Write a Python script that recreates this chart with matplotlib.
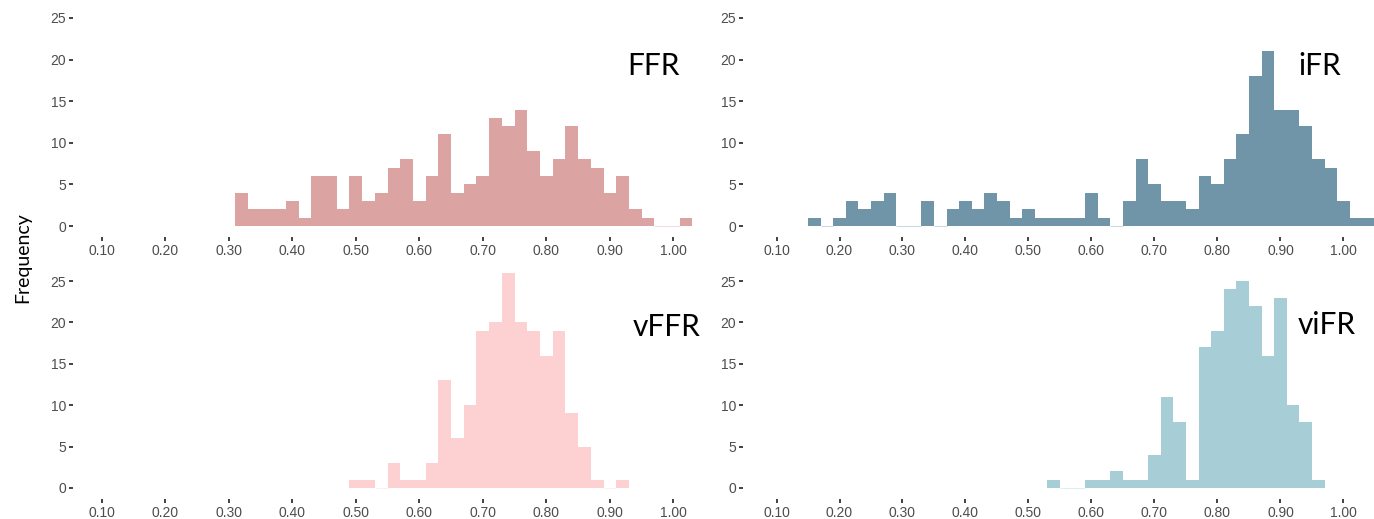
import numpy as np
import matplotlib
matplotlib.use("Agg")
import matplotlib.pyplot as plt

plt.rcParams['font.family'] = ['Liberation Sans', 'DejaVu Sans']

# histogram counts, bin width 0.02, first bin left edge given per index
bin_width = 0.02

ffr_start = 0.31
ffr_counts = [4, 2, 2, 2, 3, 1, 6, 6, 2, 6, 3, 4, 7, 8, 3, 6, 11, 4, 5, 6,
              13, 12, 14, 9, 6, 8, 12, 8, 7, 4, 6, 2, 1, 0, 0, 1]

ifr_start = 0.15
ifr_counts = [1, 0, 1, 3, 2, 3, 4, 0, 0, 3, 0, 2, 3, 2, 4, 3, 1, 2, 1, 1,
              1, 1, 4, 1, 0, 3, 8, 5, 3, 3, 2, 6, 5, 8, 11, 18, 21, 14, 14, 12,
              8, 7, 3, 1, 1]

vffr_start = 0.49
vffr_counts = [1, 1, 0, 3, 1, 1, 3, 13, 6, 10, 19, 20, 26, 20, 19, 16, 19, 9, 5, 1,
               0, 1]

vifr_start = 0.53
vifr_counts = [1, 0, 0, 1, 1, 2, 1, 1, 4, 11, 8, 1, 17, 19, 24, 25, 22, 16, 23, 10,
               8, 1]

x_ticks = [0.1, 0.2, 0.3, 0.4, 0.5, 0.6, 0.7, 0.8, 0.9, 1.0]
y_ticks = [0, 5, 10, 15, 20, 25]

W, H = 1374, 519
fig = plt.figure(figsize=(W / 100, H / 100), dpi=100)


def px_axes(x0, x1, ytop, ybot):
    return fig.add_axes([x0 / W, (H - ybot) / H, (x1 - x0) / W, (ybot - ytop) / H])


def hist_panel(ax, start, counts, color, label, xlim, ylim, lab_x, lab_y):
    counts = np.asarray(counts)
    lefts = start + bin_width * np.arange(len(counts))
    ax.bar(lefts, counts, width=bin_width, align='edge', color=color, linewidth=0)
    # empty bins show as a faint line on the baseline
    empty = counts == 0
    ax.hlines(np.zeros(empty.sum()), lefts[empty], lefts[empty] + bin_width,
              color=color, lw=0.8, alpha=0.35)
    ax.set_xlim(*xlim)
    ax.set_ylim(*ylim)
    ax.set_xticks(x_ticks)
    ax.set_xticklabels([f"{t:.2f}" for t in x_ticks])
    ax.set_yticks(y_ticks)
    for s in ax.spines.values():
        s.set_visible(False)
    ax.tick_params(axis='both', length=3.2, width=1.3, color='#333333',
                   labelsize=10, labelcolor='#4d4d4d')
    ax.tick_params(axis='x', pad=2.0)
    ax.tick_params(axis='y', pad=1.6)
    ax.text(lab_x, lab_y, label, ha='right', va='baseline', fontsize=21.5,
            family=['Lato', 'DejaVu Sans'], color='black')


# panel placement in pixels
left_x = (73, 702)
right_x = (743, 1374)
top_y = (8, 236.5)
bot_y = (270, 498.5)

xlim_left = (0.055, 1.045)
xlim_right = (0.0468, 1.0485)
ylim_top = (-1.26, 26.2)
ylim_bot = (-1.27, 26.33)

ax1 = px_axes(left_x[0], left_x[1], top_y[0], top_y[1])
hist_panel(ax1, ffr_start, ffr_counts, '#DCA3A3', 'FFR', xlim_left, ylim_top, 1.01, 18.2)

ax2 = px_axes(right_x[0], right_x[1], top_y[0], top_y[1])
hist_panel(ax2, ifr_start, ifr_counts, '#7195A8', 'iFR', xlim_right, ylim_top, 0.996, 18.1)

ax3 = px_axes(left_x[0], left_x[1], bot_y[0], bot_y[1])
hist_panel(ax3, vffr_start, vffr_counts, '#FDD1D2', 'vFFR', xlim_left, ylim_bot, 1.043, 18.4)

ax4 = px_axes(right_x[0], right_x[1], bot_y[0], bot_y[1])
hist_panel(ax4, vifr_start, vifr_counts, '#A7CDD7', 'viFR', xlim_right, ylim_bot, 1.02, 18.6)

fig.text(23 / W, 1 - 258 / H, 'Frequency', rotation=90, ha='center', va='center',
         fontsize=14, family=['Lato', 'DejaVu Sans'], color='black')

fig.savefig('out.png', dpi=100, facecolor='white')
